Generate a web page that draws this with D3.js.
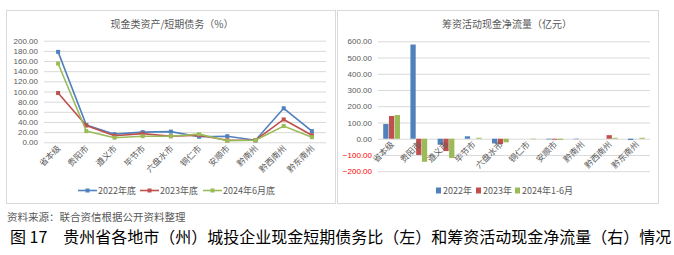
<!DOCTYPE html>
<html>
<head>
<meta charset="utf-8">
<script src="https://cdn.jsdelivr.net/npm/d3@7/dist/d3.min.js"></script>
<style>
  body { margin: 0; background: #fff; }
  svg { display: block; font-family: "Noto Sans CJK SC", "Noto Sans", sans-serif; }
</style>
</head>
<body>
<div id="chart"></div>
<script>
var cities = ["省本级", "贵阳市", "遵义市", "毕节市", "六盘水市", "铜仁市", "安顺市", "黔南州", "黔西南州", "黔东南州"];

// 现金类资产/短期债务（%）
var ratioNames = ["2022年底", "2023年底", "2024年6月底"];
var ratio2022 = [178, 34, 16, 20, 21, 11, 12, 4, 67, 22];
var ratio2023 = [97, 33, 13, 17, 12, 14, 4, 4, 45, 14];
var ratio2024 = [155, 22, 9, 12, 12, 16, 3, 4, 32, 10];
var ratioTicks = [0, 20, 40, 60, 80, 100, 120, 140, 160, 180, 200];

// 筹资活动现金净流量（亿元）
var flowNames = ["2022年", "2023年", "2024年1-6月"];
var flow2022 = [91, 580, -37, 15, -29, 0, -4, -3, 0, -8];
var flow2023 = [140, -100, -76, 0, -33, 0, -6, 0, 22, 0];
var flow2024 = [146, -142, -119, 6, -22, -3, -7, 0, 6, 6];
var flowTicks = [-200, -100, 0, 100, 200, 300, 400, 500, 600];

var colors = ["#4f81bd", "#c0504d", "#9bbb59"];
var fmt = d3.format(".2f");

var svg = d3.select("#chart").append("svg")
  .attr("width", 674)
  .attr("height", 255);

// panel frames
svg.append("rect").attr("x", 6.5).attr("y", 10.5).attr("width", 329).attr("height", 193)
  .style("fill", "none").style("stroke", "#d9d9d9");
svg.append("rect").attr("x", 337.5).attr("y", 10.5).attr("width", 321).attr("height", 193)
  .style("fill", "none").style("stroke", "#d9d9d9");

function drawTitle(x, text) {
  svg.append("text").attr("x", x).attr("y", 28)
    .attr("text-anchor", "middle")
    .style("font-size", "10px").style("fill", "#595959")
    .text(text);
}

function drawYAxis(y, ticks, x0, x1) {
  var g = svg.append("g").attr("transform", "translate(" + x0 + ",0)");
  g.call(d3.axisLeft(y).tickValues(ticks).tickSize(-(x1 - x0)).tickFormat(fmt));
  g.select(".domain").remove();
  g.selectAll(".tick line").style("stroke", "#d9d9d9");
  g.selectAll(".tick text")
    .attr("x", -6)
    .style("font-family", "'Liberation Sans', Arial, sans-serif")
    .style("font-size", "8px")
    .style("fill", function(d) { return d < 0 ? "#ff0000" : "#595959"; });
}

function drawXLabels(xc, yPos) {
  cities.forEach(function(c) {
    svg.append("text")
      .attr("transform", "translate(" + (xc(c) + 3) + "," + yPos + ") rotate(-45)")
      .attr("text-anchor", "end")
      .style("font-size", "8.5px").style("fill", "#595959")
      .text(c);
  });
}

// ---------- left: line chart ----------
var lx = d3.scaleBand().domain(cities).range([44, 326]);
var ly = d3.scaleLinear().domain([0, 200]).range([142.3, 40.7]);
var lc = function(c) { return lx(c) + lx.bandwidth() / 2; };

drawTitle(172, "现金类资产/短期债务（%）");
drawYAxis(ly, ratioTicks, 44, 326);

var ratioSeries = [ratio2022, ratio2023, ratio2024];
var line = d3.line()
  .x(function(d, i) { return lc(cities[i]); })
  .y(function(d) { return ly(d); });

ratioSeries.forEach(function(vals, k) {
  svg.append("path").datum(vals)
    .attr("d", line)
    .style("fill", "none").style("stroke", colors[k]).style("stroke-width", 1.6);
  svg.selectAll(".m" + k).data(vals).enter().append("rect")
    .attr("x", function(d, i) { return lc(cities[i]) - 2; })
    .attr("y", function(d) { return ly(d) - 2; })
    .attr("width", 4).attr("height", 4)
    .style("fill", colors[k]);
});

drawXLabels(lc, 149);

// left legend
var lLegX = [78, 140, 203];
ratioNames.forEach(function(n, k) {
  var g = svg.append("g").attr("transform", "translate(" + lLegX[k] + ",190.5)");
  g.append("line").attr("x1", 0).attr("x2", 19).attr("y1", 0).attr("y2", 0)
    .style("stroke", colors[k]).style("stroke-width", 1.6);
  g.append("rect").attr("x", 7.5).attr("y", -2).attr("width", 4).attr("height", 4)
    .style("fill", colors[k]);
  g.append("text").attr("x", 20).attr("y", 3.5)
    .style("font-size", "9px").style("fill", "#595959")
    .text(n);
});

// ---------- right: bar chart ----------
var rx = d3.scaleBand().domain(cities).range([378, 650]).paddingInner(0.35).paddingOuter(0.175);
var rsub = d3.scaleBand().domain([0, 1, 2]).range([0, rx.bandwidth()]).padding(0.08);
var ry = d3.scaleLinear().domain([-200, 600]).range([171.2, 41.3]);

drawTitle(507, "筹资活动现金净流量（亿元）");
drawYAxis(ry, flowTicks, 378, 650);

var flowSeries = [flow2022, flow2023, flow2024];
flowSeries.forEach(function(vals, k) {
  svg.selectAll(".b" + k).data(vals).enter().append("rect")
    .attr("x", function(d, i) { return rx(cities[i]) + rsub(k); })
    .attr("y", function(d) { return ry(Math.max(0, d)); })
    .attr("width", rsub.bandwidth())
    .attr("height", function(d) { return Math.abs(ry(d) - ry(0)); })
    .style("fill", colors[k]);
});

drawXLabels(function(c) { return rx(c) + rx.bandwidth() / 2; }, 145);

// right legend
var rLegX = [436, 476, 515];
flowNames.forEach(function(n, k) {
  var g = svg.append("g").attr("transform", "translate(" + rLegX[k] + ",190.5)");
  g.append("rect").attr("x", 0).attr("y", -3).attr("width", 5).attr("height", 6)
    .style("fill", colors[k]);
  g.append("text").attr("x", 7).attr("y", 3.5)
    .style("font-size", "9px").style("fill", "#595959")
    .text(n);
});

// source + caption
svg.append("text").attr("x", 7).attr("y", 221)
  .style("font-size", "10.5px").style("fill", "#595959")
  .text("资料来源：联合资信根据公开资料整理");

svg.append("text").attr("x", 10).attr("y", 243)
  .style("font-size", "16px").style("fill", "#000")
  .text("图 17　贵州省各地市（州）城投企业现金短期债务比（左）和筹资活动现金净流量（右）情况");
</script>
</body>
</html>
